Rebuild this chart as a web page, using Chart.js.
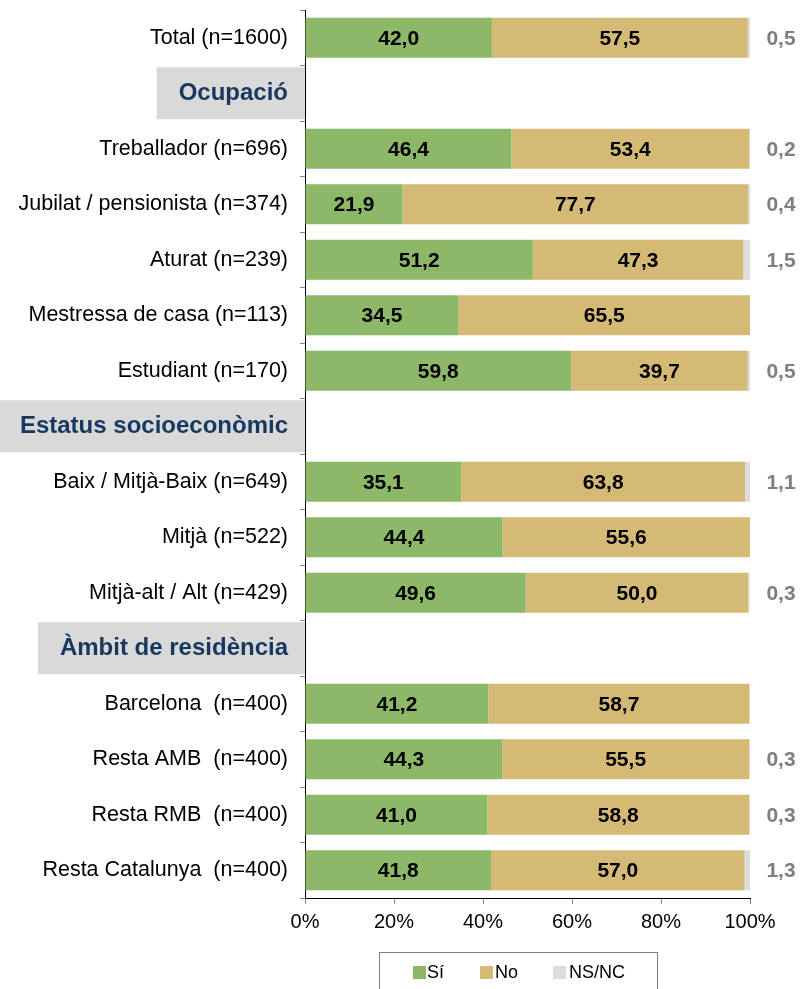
<!DOCTYPE html>
<html>
<head>
<meta charset="utf-8">
<script src="https://cdn.jsdelivr.net/npm/chart.js@4/dist/chart.umd.min.js"></script>
<style>
	html, body { margin: 0; padding: 0; background: #fff; }
	#wrap { width: 800px; height: 989px; }
</style>
</head>
<body>
<div id="wrap"><canvas id="chart"></canvas></div>
<script>
const categories = [
	'Total (n=1600)',
	'Ocupació',
	'Treballador (n=696)',
	'Jubilat / pensionista (n=374)',
	'Aturat (n=239)',
	'Mestressa de casa (n=113)',
	'Estudiant (n=170)',
	'Estatus socioeconòmic',
	'Baix / Mitjà-Baix (n=649)',
	'Mitjà (n=522)',
	'Mitjà-alt / Alt (n=429)',
	'Àmbit de residència',
	'Barcelona  (n=400)',
	'Resta AMB  (n=400)',
	'Resta RMB  (n=400)',
	'Resta Catalunya  (n=400)'
];
const headerRows = ['Ocupació', 'Estatus socioeconòmic', 'Àmbit de residència'];

const siValues   = [42.0, null, 46.4, 21.9, 51.2, 34.5, 59.8, null, 35.1, 44.4, 49.6, null, 41.2, 44.3, 41.0, 41.8];
const noValues   = [57.5, null, 53.4, 77.7, 47.3, 65.5, 39.7, null, 63.8, 55.6, 50.0, null, 58.7, 55.5, 58.8, 57.0];
const nsncValues = [0.5, null, 0.2, 0.4, 1.5, null, 0.5, null, 1.1, null, 0.3, null, null, 0.3, 0.3, 1.3];

const xTicks = [0, 20, 40, 60, 80, 100];

const FONT = '"Liberation Sans", Arial, sans-serif';
const isHeader = i => headerRows.includes(categories[i]);
const fmt = v => v.toFixed(1).replace('.', ',');

// grey boxes behind the section headers + value labels + legend
const extras = {
	id: 'extras',
	beforeDraw(chart) {
		const ctx = chart.ctx;
		const y = chart.scales.y;
		const textRight = y.right - 5 - 12;
		ctx.save();
		ctx.font = 'bold 24px ' + FONT;
		categories.forEach((c, i) => {
			if (!isHeader(i)) return;
			const py = y.getPixelForTick(i);
			const w = ctx.measureText(c).width;
			const left = Math.max(0, textRight - w - 22);
			ctx.fillStyle = '#d9d9d9';
			ctx.fillRect(left, py - 26, y.right - left, 52);
		});
		ctx.restore();
	},
	afterDatasetsDraw(chart) {
		const ctx = chart.ctx;
		ctx.save();
		ctx.font = 'bold 21px ' + FONT;
		ctx.textAlign = 'center';
		ctx.textBaseline = 'middle';
		[0, 1].forEach(d => {
			const meta = chart.getDatasetMeta(d);
			meta.data.forEach((bar, i) => {
				const v = chart.data.datasets[d].data[i];
				if (v == null) return;
				ctx.fillStyle = '#000';
				ctx.fillText(fmt(v), (bar.x + bar.base) / 2, bar.y + 1);
			});
		});
		const meta = chart.getDatasetMeta(2);
		meta.data.forEach((bar, i) => {
			const v = nsncValues[i];
			if (v == null) return;
			ctx.fillStyle = '#7f7f7f';
			ctx.fillText(fmt(v), chart.chartArea.right + 31, bar.y + 1);
		});
		ctx.restore();
	},
	afterDraw(chart) {
		const ctx = chart.ctx;
		ctx.save();
		ctx.strokeStyle = '#7f7f7f';
		ctx.lineWidth = 1;
		ctx.strokeRect(379.5, 952.5, 278, 50);
		const items = [[413, 427], [480, 495], [553, 569]];
		ctx.font = '18px ' + FONT;
		ctx.textBaseline = 'middle';
		chart.data.datasets.forEach((ds, i) => {
			ctx.fillStyle = ds.backgroundColor;
			ctx.fillRect(items[i][0], 966, 13, 13);
			ctx.fillStyle = '#000';
			ctx.fillText(ds.label, items[i][1], 973);
		});
		ctx.restore();
	}
};

const data = {
	labels: categories,
	datasets: [
		{ label: 'Sí', data: siValues, backgroundColor: '#8cb867' },
		{ label: 'No', data: noValues, backgroundColor: '#d5ba76' },
		{ label: 'NS/NC', data: nsncValues, backgroundColor: '#dcdcdc' }
	]
};

const config = {
	type: 'bar',
	data: data,
	options: {
		indexAxis: 'y',
		responsive: false,
		animation: false,
		layout: { padding: { top: 10, right: 50, bottom: 37, left: 0 } },
		datasets: {
			bar: { barPercentage: 0.72, categoryPercentage: 1 }
		},
		plugins: {
			legend: { display: false },
			tooltip: { enabled: false }
		},
		scales: {
			x: {
				stacked: true,
				min: 0,
				max: 100,
				afterBuildTicks: s => { s.ticks = xTicks.map(v => ({ value: v })); },
				afterFit: s => { s.height = 54; s.paddingLeft = 0; s.paddingRight = 0; },
				border: { color: '#000', width: 1 },
				grid: { drawOnChartArea: false, tickLength: 6, color: '#888' },
				ticks: {
					padding: 6,
					color: '#000',
					font: { family: FONT, size: 20 },
					callback: v => v + '%'
				}
			},
			y: {
				stacked: true,
				afterFit: s => { s.width = 305; s.paddingTop = 0; s.paddingBottom = 0; },
				border: { color: '#000', width: 1 },
				grid: { drawOnChartArea: false, offset: true, tickLength: 5, color: '#888' },
				ticks: {
					padding: 12,
					autoSkip: false,
					color: c => isHeader(c.index) ? '#17375e' : '#000',
					font: c => isHeader(c.index)
						? { family: FONT, size: 24, weight: 'bold' }
						: { family: FONT, size: 21.5 }
				}
			}
		}
	},
	plugins: [extras]
};

const canvas = document.getElementById('chart');
canvas.width = 800;
canvas.height = 989;
new Chart(canvas, config);
</script>
</body>
</html>
